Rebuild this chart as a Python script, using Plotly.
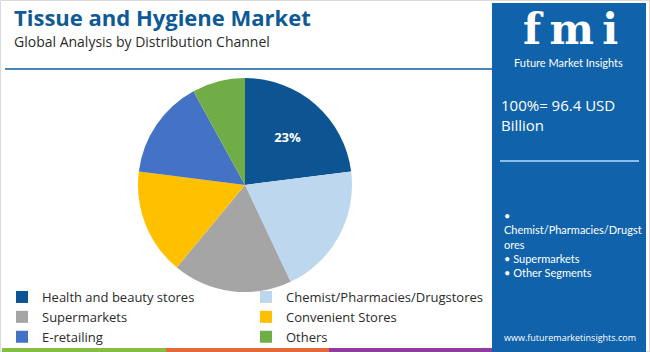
import plotly.graph_objects as go

W, H = 650, 352

labels = ["Health and beauty stores", "Chemist/Pharmacies/Drugstores", "Supermarkets",
          "Convenient Stores", "E-retailing", "Others"]
values = [23, 20, 18, 16, 15, 8]
colors = ["#0C5492", "#BDD7EE", "#A5A5A5", "#FFC000", "#4472C4", "#70AD47"]
slice_text = ["23%", "", "", "", "", ""]

title = "Tissue and Hygiene Market"
subtitle = "Global Analysis by Distribution Channel"
panel_total = "100%= 96.4 USD<br>Billion"
panel_bullets = ["•", "Chemist/Pharmacies/Drugst", "ores", "• Supermarkets", "• Other Segments"]
site = "www.futuremarketinsights.com"


def px(x):
    return x / W


def py(y):
    return 1 - y / H


cx, cy, r = 245, 185, 107

fig = go.Figure()
fig.add_trace(go.Pie(
    labels=labels, values=values, text=slice_text,
    textinfo="text", textposition="inside",
    insidetextfont=dict(color="white", size=13, family="Open Sans", weight="bold"),
    marker=dict(colors=colors, line=dict(width=0)),
    sort=False, direction="clockwise", rotation=0,
    domain=dict(x=[px(cx - r), px(cx + r)], y=[py(cy + r), py(cy - r)]),
    hoverinfo="label+percent",
))

shapes = [
    # outer light border
    dict(type="rect", xref="paper", yref="paper", x0=px(0.5), x1=px(649.5), y0=py(351.5), y1=py(0.5),
         line=dict(color="#DADADA", width=1), layer="below"),
    # rule under title
    dict(type="line", xref="paper", yref="paper", x0=px(5), x1=px(492), y0=py(69), y1=py(69),
         line=dict(color="#4A86B8", width=2)),
    # right panel
    dict(type="rect", xref="paper", yref="paper", x0=px(492), x1=px(646), y0=py(352), y1=py(3),
         fillcolor="#1063AA", line=dict(width=0), layer="below"),
    # panel rule
    dict(type="line", xref="paper", yref="paper", x0=px(500), x1=px(639), y0=py(161), y1=py(161),
         line=dict(color="#8CBDE6", width=2)),
    # bottom strip
    dict(type="rect", xref="paper", yref="paper", x0=px(2), x1=px(166), y0=py(352), y1=py(348),
         fillcolor="#86BE45", line=dict(width=0)),
    dict(type="rect", xref="paper", yref="paper", x0=px(166), x1=px(329), y0=py(352), y1=py(348),
         fillcolor="#E4693A", line=dict(width=0)),
    dict(type="rect", xref="paper", yref="paper", x0=px(329), x1=px(492), y0=py(352), y1=py(348),
         fillcolor="#8E3C9E", line=dict(width=0)),
]

ann = [
    dict(text=title, x=px(12), y=py(17), xanchor="left", yanchor="middle", showarrow=False,
         font=dict(family="Open Sans", size=22, color="#0E5A96", weight="bold")),
    dict(text=subtitle, x=px(12), y=py(41.5), xanchor="left", yanchor="middle", showarrow=False,
         font=dict(family="Open Sans", size=14, color="#2B2B2B")),
    dict(text="f\u2009m\u2009i", x=px(570), y=py(29), xanchor="center", yanchor="middle", showarrow=False,
         font=dict(family="DejaVu Serif", size=42, color="white", weight="bold")),
    dict(text="Future Market Insights", x=px(568), y=py(62), xanchor="center", yanchor="middle",
         showarrow=False, font=dict(family="Lato", size=11, color="white")),
    dict(text=panel_total, x=px(499), y=py(115), xanchor="left", yanchor="middle", showarrow=False,
         align="left", font=dict(family="Open Sans", size=15, color="white")),
    dict(text="<br>".join(panel_bullets), x=px(502), y=py(244), xanchor="left", yanchor="middle",
         showarrow=False, align="left",
         font=dict(family="Lato", size=11, color="white")),
    dict(text=site, x=px(570), y=py(337), xanchor="center", yanchor="middle", showarrow=False,
         font=dict(family="Open Sans", size=9, color="white")),
]

fig.update_layout(
    width=W, height=H, margin=dict(l=0, r=0, t=0, b=0, autoexpand=False),
    paper_bgcolor="white", plot_bgcolor="white",
    shapes=shapes, annotations=ann,
    showlegend=True,
    legend=dict(orientation="h", x=px(2), y=py(282), xanchor="left", yanchor="top",
                entrywidth=199, entrywidthmode="pixels",
                font=dict(family="Open Sans", size=13, color="#2B2B2B"),
                bgcolor="rgba(0,0,0,0)", itemwidth=30),
)

fig.write_html("out.html")
